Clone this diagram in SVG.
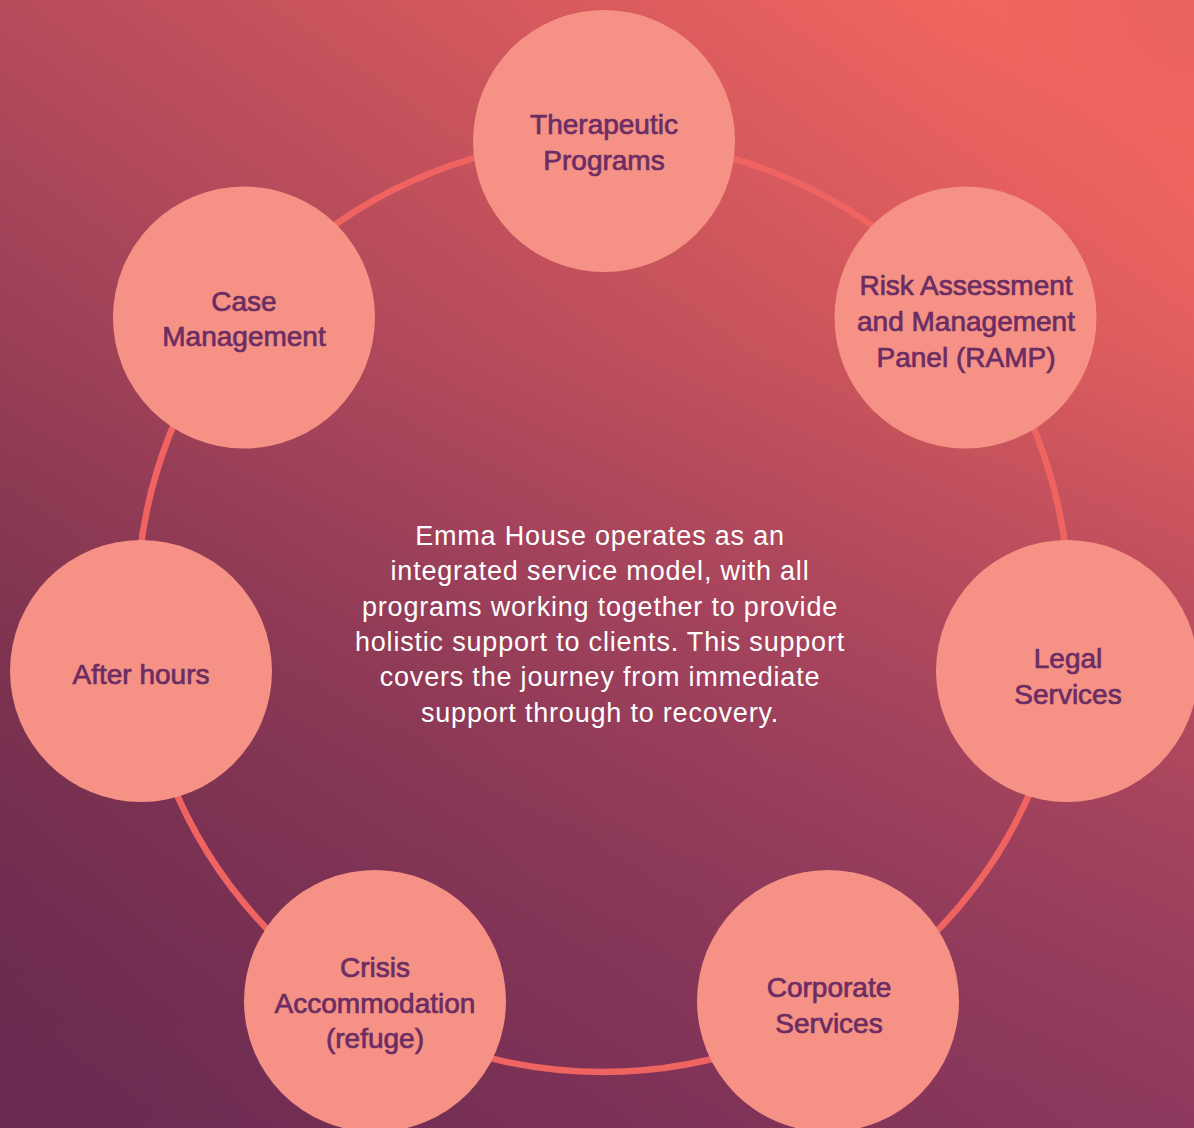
<svg xmlns="http://www.w3.org/2000/svg" width="1194" height="1128" viewBox="0 0 1194 1128">
  <defs>
    <linearGradient id="bg" gradientUnits="userSpaceOnUse" x1="950" y1="-20" x2="120" y2="1128">
      <stop offset="0" stop-color="#f2665f"/>
      <stop offset="0.5" stop-color="#a8455a"/>
      <stop offset="1" stop-color="#5e2641"/>
    </linearGradient>
    <linearGradient id="ov" gradientUnits="userSpaceOnUse" x1="0" y1="350" x2="0" y2="1128">
      <stop offset="0" stop-color="#7a3062" stop-opacity="0"/>
      <stop offset="1" stop-color="#7a3062" stop-opacity="0.5"/>
    </linearGradient>
    <radialGradient id="tr" gradientUnits="userSpaceOnUse" cx="1194" cy="0" r="260">
      <stop offset="0" stop-color="#d95a5f" stop-opacity="0.35"/>
      <stop offset="1" stop-color="#d95a5f" stop-opacity="0"/>
    </radialGradient>
    <style>
      .node { fill: #f69285; }
      .lbl { font-family: "Liberation Sans", Arial, sans-serif; font-size: 28px; fill: #6b2d63; stroke: #6b2d63; stroke-width: 0.7px; text-anchor: middle; }
      .ring { fill: none; stroke: #ef6461; stroke-width: 6.5; }
      .body { font-family: "Liberation Sans", Arial, sans-serif; font-size: 27px; fill: #ffffff; text-anchor: middle; letter-spacing: 0.8px; }
    </style>
  </defs>
  <rect width="1194" height="1128" fill="url(#bg)"/>
  <rect width="1194" height="1128" fill="url(#ov)"/>
  <rect width="1194" height="1128" fill="url(#tr)"/>

  <g id="connectors">
    <circle class="ring" cx="603" cy="606" r="466"/>
  </g>

  <g id="center-text">
    <text class="body" x="600" y="545">Emma House operates as an</text>
    <text class="body" x="600" y="580.3">integrated service model, with all</text>
    <text class="body" x="600" y="615.6">programs working together to provide</text>
    <text class="body" x="600" y="651">holistic support to clients. This support</text>
    <text class="body" x="600" y="686.3">covers the journey from immediate</text>
    <text class="body" x="600" y="721.6">support through to recovery.</text>
  </g>

  <g id="node-therapeutic">
    <circle class="node" cx="604" cy="141" r="131"/>
    <text class="lbl" x="604" y="134">Therapeutic</text>
    <text class="lbl" x="604" y="170">Programs</text>
  </g>

  <g id="node-ramp">
    <circle class="node" cx="965.5" cy="317.5" r="131"/>
    <text class="lbl" x="966" y="295">Risk Assessment</text>
    <text class="lbl" x="966" y="331">and Management</text>
    <text class="lbl" x="966" y="367">Panel (RAMP)</text>
  </g>

  <g id="node-legal">
    <circle class="node" cx="1067" cy="671" r="131"/>
    <text class="lbl" x="1068" y="668">Legal</text>
    <text class="lbl" x="1068" y="704">Services</text>
  </g>

  <g id="node-corporate">
    <circle class="node" cx="828" cy="1001" r="131"/>
    <text class="lbl" x="829" y="997">Corporate</text>
    <text class="lbl" x="829" y="1033">Services</text>
  </g>

  <g id="node-crisis">
    <circle class="node" cx="375" cy="1001" r="131"/>
    <text class="lbl" x="375" y="977">Crisis</text>
    <text class="lbl" x="375" y="1013">Accommodation</text>
    <text class="lbl" x="375" y="1048">(refuge)</text>
  </g>

  <g id="node-afterhours">
    <circle class="node" cx="141" cy="671" r="131"/>
    <text class="lbl" x="141" y="684">After hours</text>
  </g>

  <g id="node-case">
    <circle class="node" cx="244" cy="317.5" r="131"/>
    <text class="lbl" x="244" y="311">Case</text>
    <text class="lbl" x="244" y="346">Management</text>
  </g>
</svg>
